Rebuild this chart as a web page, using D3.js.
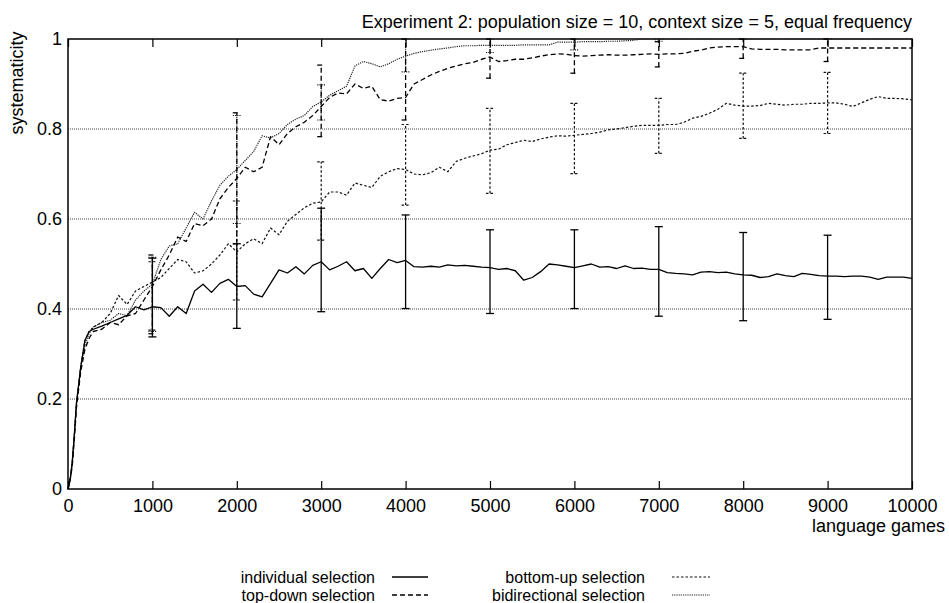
<!DOCTYPE html>
<html><head><meta charset="utf-8">
<script src="https://cdn.jsdelivr.net/npm/d3@7"></script>
<style>
body{margin:0;background:#fff}
text{font-family:"Liberation Sans",Arial,Helvetica,sans-serif;fill:#000}
</style>
</head><body>
<svg id="c" width="949" height="603"></svg>
<script>
// ---------- data ----------
const games = [0,25,50,75,100,150,200,250,300].concat(d3.range(400, 10001, 100));

const individual = [
  0, 0.02, 0.06, 0.12, 0.19, 0.27, 0.33, 0.35, 0.355,
  0.362, 0.37, 0.378, 0.386, 0.405, 0.398, 0.405, 0.403, 0.384, 0.405,
  0.39, 0.44, 0.455, 0.437, 0.457, 0.466, 0.45, 0.452, 0.433, 0.427,
  0.457, 0.487, 0.48, 0.494, 0.478, 0.497, 0.505, 0.487, 0.495, 0.505,
  0.485, 0.49, 0.468, 0.49, 0.51, 0.503, 0.508, 0.494, 0.493, 0.495,
  0.493, 0.498, 0.496, 0.497, 0.495, 0.493, 0.492, 0.488, 0.49, 0.485,
  0.464, 0.47, 0.483, 0.5, 0.498, 0.495, 0.492, 0.496, 0.5, 0.493,
  0.494, 0.49, 0.496, 0.49, 0.491, 0.488, 0.488, 0.481, 0.479, 0.478,
  0.476, 0.482, 0.483, 0.481, 0.482, 0.478, 0.476, 0.475, 0.47, 0.472,
  0.478, 0.474, 0.472, 0.479, 0.477, 0.474, 0.473, 0.473, 0.472, 0.473,
  0.473, 0.471, 0.466, 0.471, 0.471, 0.471, 0.468
];
const topDown = [
  0, 0.02, 0.05, 0.11, 0.18, 0.26, 0.31, 0.335, 0.35,
  0.355, 0.37, 0.365, 0.385, 0.39, 0.42, 0.45, 0.487, 0.52, 0.56,
  0.55, 0.59, 0.585, 0.6, 0.645, 0.67, 0.69, 0.715, 0.705, 0.715,
  0.783, 0.765, 0.79, 0.805, 0.815, 0.83, 0.85, 0.87, 0.88, 0.878,
  0.9, 0.89, 0.895, 0.865, 0.862, 0.868, 0.87, 0.9, 0.91, 0.92,
  0.928, 0.935, 0.94, 0.945, 0.948, 0.955, 0.96, 0.95, 0.952, 0.955,
  0.955, 0.958, 0.962, 0.965, 0.967, 0.966, 0.963, 0.962, 0.963, 0.964,
  0.965, 0.964, 0.964, 0.965, 0.966, 0.967, 0.966, 0.967, 0.967, 0.968,
  0.973, 0.975, 0.98, 0.982, 0.983, 0.983, 0.983, 0.978, 0.977, 0.977,
  0.977, 0.976, 0.976, 0.976, 0.976, 0.98, 0.98, 0.98, 0.98, 0.98,
  0.98, 0.98, 0.98, 0.98, 0.98, 0.98, 0.98
];
const bottomUp = [
  0, 0.02, 0.06, 0.12, 0.19, 0.27, 0.33, 0.35, 0.36,
  0.37, 0.39, 0.43, 0.41, 0.44, 0.45, 0.46, 0.47, 0.49, 0.51,
  0.505, 0.48, 0.485, 0.5, 0.52, 0.545, 0.527, 0.545, 0.556, 0.545,
  0.58, 0.565, 0.595, 0.61, 0.625, 0.635, 0.638, 0.66, 0.66, 0.653,
  0.68, 0.675, 0.67, 0.695, 0.705, 0.712, 0.71, 0.7, 0.698, 0.703,
  0.715, 0.705, 0.728, 0.735, 0.74, 0.745, 0.753, 0.755, 0.765, 0.77,
  0.775, 0.772, 0.778, 0.782, 0.785, 0.784, 0.786, 0.788, 0.79, 0.793,
  0.798, 0.8, 0.803, 0.806, 0.808, 0.808, 0.808, 0.81, 0.81, 0.815,
  0.824, 0.828, 0.835, 0.844, 0.857, 0.853, 0.851, 0.851, 0.852, 0.857,
  0.855, 0.853, 0.855, 0.855, 0.857, 0.857, 0.858, 0.858, 0.855, 0.85,
  0.858, 0.866, 0.872, 0.868, 0.868, 0.867, 0.865
];
const bidirectional = [
  0, 0.02, 0.055, 0.12, 0.19, 0.27, 0.32, 0.345, 0.36,
  0.37, 0.375, 0.39, 0.385, 0.42, 0.44, 0.455, 0.51, 0.54, 0.545,
  0.58, 0.615, 0.6, 0.64, 0.675, 0.695, 0.71, 0.73, 0.75, 0.785,
  0.78, 0.79, 0.81, 0.822, 0.83, 0.85, 0.86, 0.875, 0.885, 0.895,
  0.94, 0.95, 0.945, 0.938, 0.945, 0.955, 0.962, 0.968, 0.972, 0.975,
  0.978, 0.98, 0.983, 0.985, 0.985, 0.986, 0.986, 0.986, 0.986, 0.986,
  0.987, 0.987, 0.987, 0.987, 0.993, 0.993, 0.993, 0.994, 0.994, 0.994,
  0.995, 0.995, 0.996, 0.997, 1, 1, 1, 1, 1, 1,
  1, 1, 1, 1, 1, 1, 1, 1, 1, 1,
  1, 1, 1, 1, 1, 1, 1, 1, 1, 1,
  1, 1, 1, 1, 1, 1, 1
];

const errGames = [1000, 2000, 3000, 4000, 5000, 6000, 7000, 8000, 9000];
const individualLo    = [0.338, 0.357, 0.394, 0.401, 0.39, 0.401, 0.384, 0.374, 0.377];
const individualHi    = [0.513, 0.545, 0.624, 0.609, 0.576, 0.576, 0.583, 0.57, 0.564];
const topDownLo       = [0.345, 0.545, 0.783, 0.82, 0.913, 0.924, 0.938, 0.957, 0.95];
const topDownHi       = [0.52, 0.836, 0.942, 1.0, 1.0, 1.0, 0.994, 1.0, 1.0];
const bottomUpLo      = [0.353, 0.42, 0.553, 0.631, 0.657, 0.701, 0.746, 0.779, 0.79];
const bottomUpHi      = [0.505, 0.64, 0.727, 0.81, 0.846, 0.857, 0.868, 0.924, 0.926];
const bidirectionalLo = [0.35, 0.59, 0.82, 0.927, 0.97, 0.976, 0.995, 1.0, 1.0];
const bidirectionalHi = [0.515, 0.83, 0.898, 1.0, 1.0, 1.0, 1.0, 1.0, 1.0];

const xTicks = [0,1000,2000,3000,4000,5000,6000,7000,8000,9000,10000];
const yTicks = [0, 0.2, 0.4, 0.6, 0.8, 1];
const gridValues = [0.2, 0.4, 0.6, 0.8];

const seriesNames = ["individual selection","top-down selection","bottom-up selection","bidirectional selection"];

const titleText = "Experiment 2: population size = 10, context size = 5, equal frequency";

// ---------- chart ----------
const svg = d3.select("#c");
const L = 68, R = 912, T = 39, B = 489;
const x = d3.scaleLinear().domain([0, 10000]).range([L, R]);
const y = d3.scaleLinear().domain([0, 1]).range([B, T]);

const styles = [
  {dash: null,    width: 1.3, color: "#000"},
  {dash: "5,3",   width: 1.3, color: "#000"},
  {dash: "2.5,2", width: 1.2, color: "#111"},
  {dash: "1.2,1", width: 1.2, color: "#222"}
];

// grid
svg.append("g").selectAll("line").data(gridValues).join("line")
  .attr("x1", L).attr("x2", R)
  .attr("y1", d => y(d)).attr("y2", d => y(d))
  .attr("stroke", "#444").attr("stroke-width", 1).attr("stroke-dasharray", "1,1");

// axes
const fs = "18px";
const xAxis = svg.append("g").attr("transform", `translate(0,${B})`)
  .call(d3.axisBottom(x).tickValues(xTicks).tickSizeInner(-8).tickSizeOuter(0).tickPadding(10).tickFormat(d3.format("d")));
xAxis.select(".domain").remove();
xAxis.selectAll("line").attr("stroke", "#000").attr("stroke-width", 1.2);
xAxis.selectAll("text").attr("font-size", fs).attr("font-family", "Liberation Sans, Arial, sans-serif").attr("fill", "#000");

const xTop = svg.append("g").attr("transform", `translate(0,${T})`)
  .call(d3.axisTop(x).tickValues(xTicks).tickSizeInner(-8).tickSizeOuter(0).tickFormat(""));
xTop.select(".domain").remove();
xTop.selectAll("line").attr("stroke", "#000").attr("stroke-width", 1.2);

const yAxis = svg.append("g").attr("transform", `translate(${L},0)`)
  .call(d3.axisLeft(y).tickValues(yTicks).tickSize(0).tickPadding(6).tickFormat(d => d3.format("")(+d.toFixed(1))));
yAxis.select(".domain").remove();
yAxis.selectAll("text").attr("font-size", fs).attr("font-family", "Liberation Sans, Arial, sans-serif").attr("fill", "#000");

// border
svg.append("rect").attr("x", L).attr("y", T).attr("width", R - L).attr("height", B - T)
  .attr("fill", "none").attr("stroke", "#000").attr("stroke-width", 1.5);

// lines
const seriesVals = [individual, topDown, bottomUp, bidirectional];
const seriesLo = [individualLo, topDownLo, bottomUpLo, bidirectionalLo];
const seriesHi = [individualHi, topDownHi, bottomUpHi, bidirectionalHi];
const line = d3.line().x((d, i) => x(games[i])).y(d => y(d));

// draw order: bidirectional, bottom-up, top-down, individual
[3, 2, 1, 0].forEach(k => {
  const st = styles[k];
  const g = svg.append("g");
  g.append("path").datum(seriesVals[k]).attr("d", line)
    .attr("fill", "none").attr("stroke", st.color).attr("stroke-width", st.width)
    .attr("stroke-dasharray", st.dash).attr("stroke-linejoin", "round");
  const eb = g.append("g").selectAll("g").data(errGames).join("g")
    .attr("stroke", st.color).attr("stroke-width", st.width).attr("stroke-dasharray", st.dash);
  eb.append("line").attr("x1", d => x(d)).attr("x2", d => x(d))
    .attr("y1", (d, i) => y(seriesLo[k][i])).attr("y2", (d, i) => y(seriesHi[k][i]));
  eb.append("line").attr("x1", d => x(d) - 4).attr("x2", d => x(d) + 4)
    .attr("y1", (d, i) => y(seriesLo[k][i])).attr("y2", (d, i) => y(seriesLo[k][i]));
  eb.append("line").attr("x1", d => x(d) - 4).attr("x2", d => x(d) + 4)
    .attr("y1", (d, i) => y(seriesHi[k][i])).attr("y2", (d, i) => y(seriesHi[k][i]));
});

// title and labels
svg.append("text").attr("x", 912).attr("y", 28).attr("text-anchor", "end")
  .attr("font-size", fs).text(titleText);
svg.append("text").attr("transform", "translate(23,83) rotate(-90)").attr("text-anchor", "middle")
  .attr("font-size", fs).text("systematicity");
svg.append("text").attr("x", 945).attr("y", 532).attr("text-anchor", "end")
  .attr("font-size", fs).text("language games");

// legend
const legendPos = [
  {tx: 375, ty: 583, lx1: 392, lx2: 428},
  {tx: 375, ty: 601, lx1: 392, lx2: 428},
  {tx: 645, ty: 583, lx1: 672, lx2: 710},
  {tx: 645, ty: 601, lx1: 672, lx2: 710}
];
const leg = svg.append("g").selectAll("g").data(seriesNames).join("g");
leg.append("text").attr("x", (d, i) => legendPos[i].tx).attr("y", (d, i) => legendPos[i].ty)
  .attr("text-anchor", "end").attr("font-size", "16px").text(d => d);
leg.append("line").attr("x1", (d, i) => legendPos[i].lx1).attr("x2", (d, i) => legendPos[i].lx2)
  .attr("y1", (d, i) => legendPos[i].ty - 6).attr("y2", (d, i) => legendPos[i].ty - 6)
  .attr("stroke", (d, i) => styles[i].color).attr("stroke-width", (d, i) => styles[i].width)
  .attr("stroke-dasharray", (d, i) => styles[i].dash);
</script>
</body></html>
